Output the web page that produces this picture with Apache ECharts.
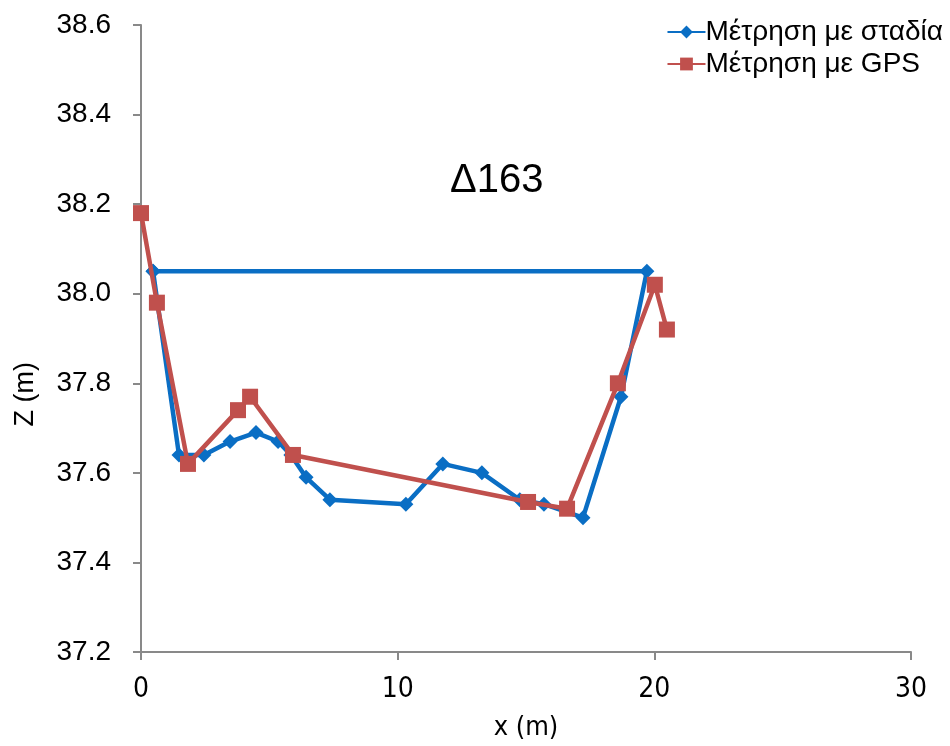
<!DOCTYPE html>
<html>
<head>
<meta charset="utf-8">
<title>Δ163</title>
<script src="https://cdn.jsdelivr.net/npm/echarts@6/dist/echarts.min.js"></script>
<style>
  html, body { margin: 0; padding: 0; background: #fff; }
  #chart { width: 950px; height: 746px; }
</style>
</head>
<body>
<div id="chart"></div>
<script>
// Cross-section Δ163: bed elevation Z against distance x
const seriesNames = ['Μέτρηση με σταδία', 'Μέτρηση με GPS'];

// Staff (σταδία) survey, in drawing order (closes back to the left bank)
const stadiaX = [0.47, 1.48, 2.45, 3.47, 4.48, 5.34, 5.84, 6.43, 7.36, 10.32, 11.76, 13.28, 14.76, 15.70, 17.22, 18.70, 19.71, 0.47];
const stadiaZ = [38.05, 37.64, 37.64, 37.67, 37.69, 37.67, 37.64, 37.59, 37.54, 37.53, 37.62, 37.60, 37.54, 37.53, 37.50, 37.77, 38.05, 38.05];

// GPS survey
const gpsX = [0.00, 0.62, 1.83, 3.78, 4.25, 5.92, 15.08, 16.60, 18.58, 20.02, 20.49];
const gpsZ = [38.18, 37.98, 37.62, 37.74, 37.77, 37.64, 37.535, 37.52, 37.80, 38.02, 37.92];

const xTicks = { min: 0, max: 30, step: 10 };
const zTicks = { min: 37.2, max: 38.6, step: 0.2 };

const pair = (xs, ys) => xs.map((x, i) => [x, ys[i]]);

const axisColor = '#898989';
const sans = 'Liberation Sans, Arial, sans-serif';
const narrow = 'DejaVu Sans Condensed, Liberation Sans, sans-serif';

const chart = echarts.init(document.getElementById('chart'));
chart.setOption({
  backgroundColor: '#ffffff',
  animation: false,
  title: {
    text: 'Δ163',
    left: 445,
    top: 156,
    textStyle: { fontFamily: sans, fontSize: 40, fontWeight: 'normal', color: '#000' }
  },
  legend: {
    orient: 'vertical',
    right: 2,
    top: 13,
    itemWidth: 38,
    itemHeight: 16,
    itemGap: 4,
    textStyle: { fontFamily: sans, fontSize: 28, color: '#000', padding: [0, 0, 0, -5] },
    data: seriesNames
  },
  graphic: [{
    type: 'text',
    left: 12,
    top: 362,
    rotation: Math.PI / 2,
    style: { text: 'Z (m)', font: '27px ' + sans, fill: '#000' }
  }],
  grid: { left: 141, right: 39, top: 25, bottom: 94, containLabel: false },
  xAxis: {
    type: 'value',
    min: xTicks.min, max: xTicks.max, interval: xTicks.step,
    name: 'x (m)',
    nameLocation: 'middle',
    nameGap: 62,
    nameTextStyle: { fontFamily: narrow, fontSize: 27, color: '#000' },
    axisLine: { show: true, onZero: false, lineStyle: { color: axisColor, width: 2 } },
    axisTick: { show: true, length: 8, lineStyle: { color: axisColor, width: 2 } },
    axisLabel: { fontFamily: narrow, fontSize: 28, color: '#000', margin: 24 },
    splitLine: { show: false }
  },
  yAxis: {
    type: 'value',
    min: zTicks.min, max: zTicks.max, interval: zTicks.step,
    axisLine: { show: true, lineStyle: { color: axisColor, width: 2 } },
    axisTick: { show: true, length: 8, lineStyle: { color: axisColor, width: 2 } },
    axisLabel: {
      fontFamily: sans, fontSize: 28, color: '#000', margin: 30,
      formatter: v => v.toFixed(1)
    },
    splitLine: { show: false }
  },
  series: [
    {
      name: seriesNames[0],
      type: 'line',
      data: pair(stadiaX, stadiaZ),
      symbol: 'diamond',
      symbolSize: 15,
      color: '#0A6EC4',
      lineStyle: { width: 4.5, color: '#0A6EC4' },
      itemStyle: { color: '#0A6EC4' },
      z: 2
    },
    {
      name: seriesNames[1],
      type: 'line',
      data: pair(gpsX, gpsZ),
      symbol: 'rect',
      symbolSize: 16,
      color: '#C0504D',
      lineStyle: { width: 4.5, color: '#C0504D' },
      itemStyle: { color: '#C0504D' },
      z: 3
    }
  ]
});
</script>
</body>
</html>
